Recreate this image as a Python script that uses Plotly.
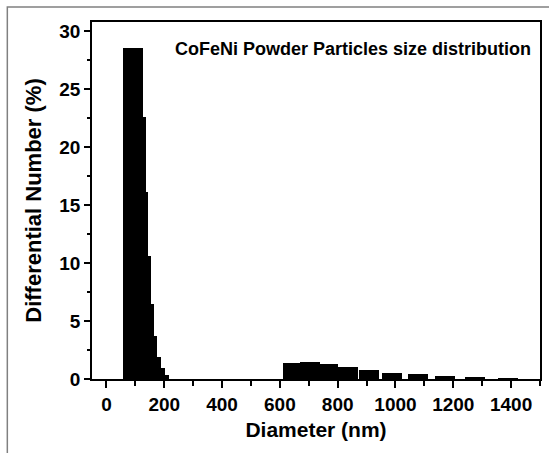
import plotly.graph_objects as go

# Particle diameter (nm) – column centres, and differential number (%)
diameter_nm = [92, 101, 109, 118, 129, 140, 152, 167, 182,
               646, 703, 766, 834, 908, 989, 1077, 1172, 1274, 1390]
diff_number = [28.6, 22.6, 16.1, 10.6, 6.5, 3.7, 1.9, 0.92, 0.35,
               1.35, 1.45, 1.3, 1.06, 0.78, 0.55, 0.40, 0.26, 0.12, 0.06]
col_width = 70

x_ticks = [0, 200, 400, 600, 800, 1000, 1200, 1400]
y_ticks = [0, 5, 10, 15, 20, 25, 30]

FONT = "Liberation Sans"

fig = go.Figure()
fig.add_trace(go.Bar(
    x=diameter_nm, y=diff_number, width=[col_width] * len(diameter_nm),
    marker=dict(color="black", line=dict(width=0)),
    showlegend=False,
))

fig.update_layout(
    width=549, height=453,
    margin=dict(l=92, r=7, t=22, b=74),
    paper_bgcolor="white", plot_bgcolor="white",
    font=dict(family=FONT, color="black"),
    bargap=0,
)

fig.update_xaxes(
    range=[-50, 1500], tickmode="array", tickvals=x_ticks,
    ticktext=[str(v) for v in x_ticks],
    ticks="outside", ticklen=7, tickwidth=1.5, tickcolor="black",
    minor=dict(dtick=100, tick0=0, ticks="outside", ticklen=5, tickwidth=1.5, tickcolor="black"),
    showline=True, linecolor="black", linewidth=1.5, mirror=True,
    showgrid=False, zeroline=False,
    tickfont=dict(family=FONT, size=19, weight="bold", color="black"),
    title=dict(text="Diameter (nm)", standoff=9,
               font=dict(family=FONT, size=21, weight="bold", color="black")),
)
fig.update_yaxes(
    range=[0, 30.8], tickmode="array", tickvals=y_ticks,
    ticktext=[str(v) for v in y_ticks],
    ticks="outside", ticklen=6, tickwidth=1.5, tickcolor="black",
    minor=dict(dtick=2.5, tick0=0, ticks="outside", ticklen=3, tickwidth=1.5, tickcolor="black"),
    showline=True, linecolor="black", linewidth=1.5, mirror=True,
    showgrid=False, zeroline=False,
    tickfont=dict(family=FONT, size=19, weight="bold", color="black"),
    title=dict(text="Differential Number (%)", standoff=12,
               font=dict(family=FONT, size=22, weight="bold", color="black")),
)

fig.add_annotation(
    text="CoFeNi Powder Particles size distribution",
    xref="paper", yref="paper", x=0.985, y=0.925,
    xanchor="right", yanchor="middle", showarrow=False,
    font=dict(family=FONT, size=18, weight="bold", color="black"),
)

# outer grey frame (left and top edges visible)
fig.add_shape(type="path", xref="paper", yref="paper",
              path="M -0.189 -0.5 L -0.189 1.042 L 1.2 1.042",
              line=dict(color="#808080", width=1.5), layer="above")

fig.write_html("out.html")
